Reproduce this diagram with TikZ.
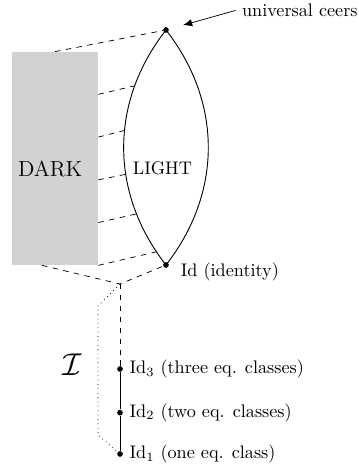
\documentclass[tikz,border=0pt]{standalone}
\usepackage{amsmath,amssymb}
\usepackage{tikz}
\usetikzlibrary{arrows.meta, positioning, calc}

\begin{document}
\begin{tikzpicture}[
  darkbox/.style={fill=gray!35, draw=none, inner sep=0pt,
                  minimum width=1.661cm, minimum height=4.113cm},
  ptnode/.style={circle, fill=black, inner sep=1.1pt},
  projline/.style={dashed},
  lensline/.style={line width=0.5pt},
  pointer/.style={-{Latex[length=5pt, width=4pt]}, shorten >=8pt},
]
\useasboundingbox (0,0) rectangle (6.913,9.037);

% =================================================================
%  DARK PART
% =================================================================
\node[darkbox] (dark) at (1.062,5.977) {};
\node[font=\large] (darklab) at (0.969,5.770) {DARK};

% =================================================================
%  LIGHT PART (LENS)
% =================================================================
\node[ptnode] (top) at (3.205,8.458) {};
\node[ptnode] (id) at (3.205,3.920) {};
\node (lightlab) at (3.138,5.797) {LIGHT};

\draw[lensline] (top.center) to[bend right=38]
  coordinate[pos=0.245] (l1) coordinate[pos=0.43] (l2)
  coordinate[pos=0.61] (l3) coordinate[pos=0.775] (l4)
  coordinate[pos=0.94] (l5) (id.center);
\draw[lensline] (top.center) to[bend left=38] (id.center);

\node[anchor=west] (ceers) at (4.550,8.836) {universal ceers};
\draw[pointer] (ceers.west) -- (top);
\node[right=0.1cm of id, yshift=-0.125cm] (idlab) {Id (identity)};

% =================================================================
%  PROJECTIONS
% =================================================================
\coordinate (base) at (2.317,3.553);
\draw[projline] (dark.north) -- (top);
\foreach \f/\l in {0.2/l1, 0.4/l2, 0.6/l3, 0.8/l4, 1.0/l5}
  \draw[projline] ($(dark.north east)!\f!(dark.south east)$) -- (\l);
\draw[projline] ($(dark.south west)!0.35!(dark.south east)$) -- (base) -- (id);

% =================================================================
%  FINITE PART
% =================================================================
\node[ptnode, label={right:Id$_3$ (three eq. classes)}] (id3) at (2.317,1.912) {};
\node[ptnode, label={right:Id$_2$ (two eq. classes)}] (id2) at (2.317,1.068) {};
\node[ptnode, label={right:Id$_1$ (one eq. class)}] (id1) at (2.317,0.270) {};

\draw[projline] (base) -- (id3);
\draw (id3) -- (id2) -- (id1);
\draw[dotted] (base) -- ++(-0.425,-0.425) -- ++(0,-2.49) -- (id1);

\node (ideal) at (1.400,1.989) {\LARGE$\mathcal{I}$};

\end{tikzpicture}
\end{document}
